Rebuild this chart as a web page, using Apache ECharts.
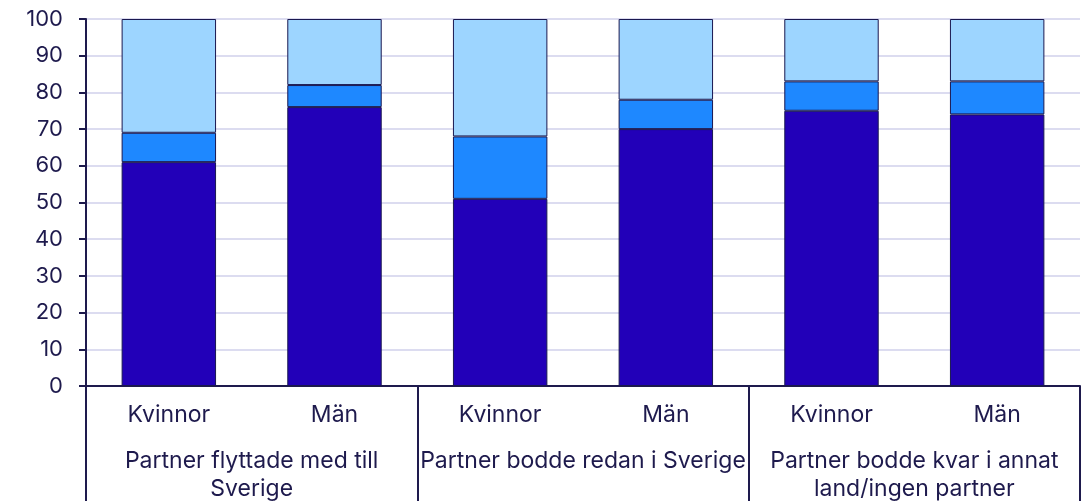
<!DOCTYPE html>
<html>
<head>
<meta charset="utf-8">
<script src="https://cdn.jsdelivr.net/npm/echarts@6/dist/echarts.min.js"></script>
<style>
html,body{margin:0;padding:0;background:#fff;}
#chart{width:1084px;height:501px;}
</style>
</head>
<body>
<div id="chart"></div>
<script>
const genders = ['Kvinnor', 'Män', 'Kvinnor', 'Män', 'Kvinnor', 'Män'];
const groups = ['Partner flyttade med till\nSverige', 'Partner bodde redan i Sverige', 'Partner bodde kvar i annat\nland/ingen partner'];
const seriesA = [61, 76, 51, 70, 75, 74];
const seriesB = [8, 6, 17, 8, 8, 9];
const seriesC = [31, 18, 32, 22, 17, 17];
const yTicks = [0, 10, 20, 30, 40, 50, 60, 70, 80, 90, 100];

const navy = '#1e1a4d';
const font = 'Inter';
const chart = echarts.init(document.getElementById('chart'));
const barStyle = (c) => ({ color: c, borderColor: '#1a1850', borderWidth: 1 });
chart.setOption({
  animation: false,
  grid: { left: 86, right: 4, top: 19, bottom: 115, containLabel: false, outerBoundsMode: 'none' },
  xAxis: [
    {
      type: 'category', data: genders, position: 'bottom',
      axisLine: { show: true, lineStyle: { color: navy, width: 2 } },
      axisTick: { show: false },
      axisLabel: { color: navy, fontFamily: font, fontSize: 23, margin: 16, lineHeight: 26, interval: 0 }
    },
    {
      type: 'category', data: groups, position: 'bottom',
      axisLine: { show: false },
      axisTick: { show: true, length: 130, interval: 0, lineStyle: { color: navy, width: 2 } },
      axisLabel: { color: navy, fontFamily: font, fontSize: 23, margin: 61, lineHeight: 28, interval: 0, align: 'center' }
    }
  ],
  yAxis: {
    type: 'value', min: yTicks[0], max: yTicks[yTicks.length - 1], interval: 10,
    axisLine: { show: true, lineStyle: { color: navy, width: 2 } },
    axisTick: { show: true, length: 7, lineStyle: { color: navy, width: 2 } },
    axisLabel: { color: navy, fontFamily: font, fontSize: 22, margin: 23 },
    splitLine: { show: true, lineStyle: { color: '#dcdcf0', width: 2 } }
  },
  series: [
    { type: 'bar', stack: 's', data: seriesA, barWidth: '57%', itemStyle: barStyle('#2200b8'), xAxisIndex: 0 },
    { type: 'bar', stack: 's', data: seriesB, barWidth: '57%', itemStyle: barStyle('#1e88ff'), xAxisIndex: 0 },
    { type: 'bar', stack: 's', data: seriesC, barWidth: '57%', itemStyle: barStyle('#9dd5ff'), xAxisIndex: 0 }
  ]
});
</script>
</body>
</html>
